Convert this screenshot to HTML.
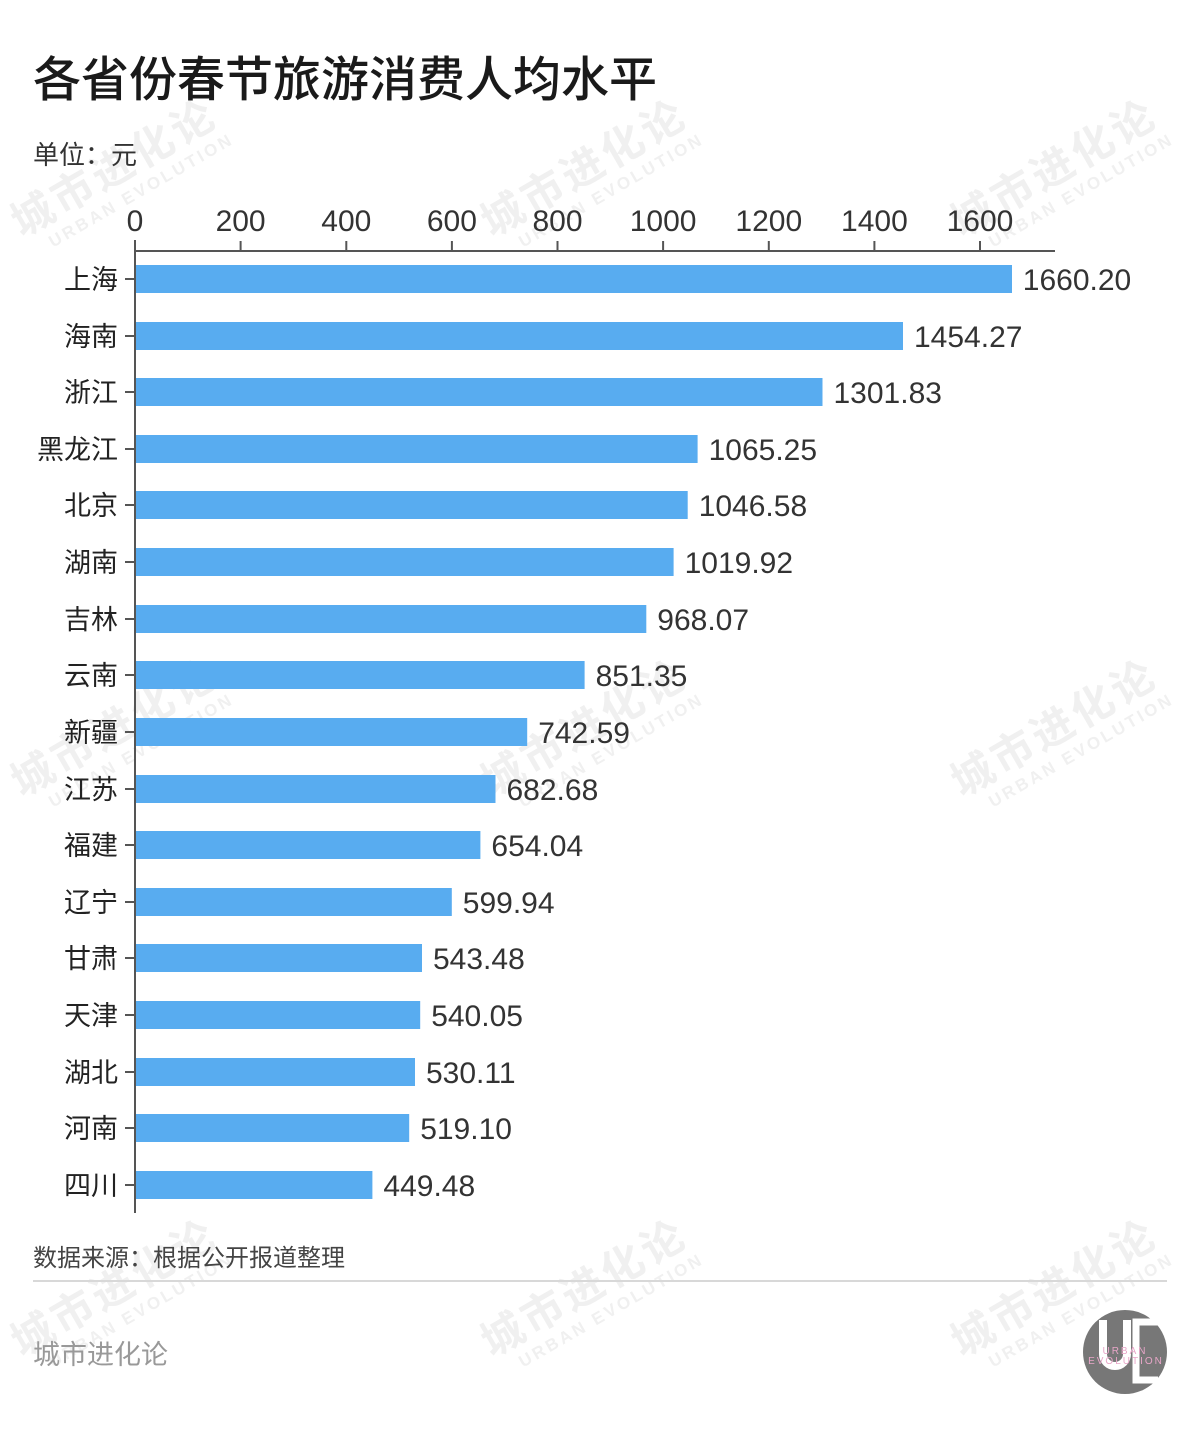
<!DOCTYPE html>
<html><head><meta charset="utf-8"><style>
html,body{margin:0;padding:0;background:#fff;}
svg{display:block;}
text{font-family:"Liberation Sans","Noto Sans CJK SC",sans-serif;}
</style></head><body>
<svg width="1200" height="1440" viewBox="0 0 1200 1440" xmlns="http://www.w3.org/2000/svg">
<rect width="1200" height="1440" fill="#fff"/>
<defs>
<g id="wm">
<text x="0" y="0" font-size="42" font-weight="bold" fill="#f0f0f0" font-family="Noto Sans CJK SC,sans-serif" letter-spacing="4">城市进化论</text>
<text x="22" y="24" font-size="17" font-weight="bold" fill="#f0f0f0" letter-spacing="3">URBAN EVOLUTION</text>
</g>
</defs>
<g transform="translate(22,238) rotate(-30)"><use href="#wm"/></g>
<g transform="translate(492,238) rotate(-30)"><use href="#wm"/></g>
<g transform="translate(962,238) rotate(-30)"><use href="#wm"/></g>
<g transform="translate(22,798) rotate(-30)"><use href="#wm"/></g>
<g transform="translate(492,798) rotate(-30)"><use href="#wm"/></g>
<g transform="translate(962,798) rotate(-30)"><use href="#wm"/></g>
<g transform="translate(22,1358) rotate(-30)"><use href="#wm"/></g>
<g transform="translate(492,1358) rotate(-30)"><use href="#wm"/></g>
<g transform="translate(962,1358) rotate(-30)"><use href="#wm"/></g>

<text x="33" y="96" font-size="48" font-weight="500" fill="#1a1a1a" font-family="Noto Sans CJK SC,sans-serif">各省份春节旅游消费人均水平</text>
<text x="33" y="164" font-size="26" fill="#333">单位：元</text>

<g font-size="30" fill="#333" text-anchor="middle">
<text x="135" y="231">0</text><text x="240.6" y="231">200</text><text x="346.3" y="231">400</text><text x="451.9" y="231">600</text><text x="557.5" y="231">800</text><text x="663.1" y="231">1000</text><text x="768.8" y="231">1200</text><text x="874.4" y="231">1400</text><text x="980" y="231">1600</text>
</g>
<g stroke="#555" stroke-width="2">
<line x1="135" y1="251" x2="1055" y2="251"/>
<line x1="135" y1="240" x2="135" y2="1213"/>
<line x1="240.6" y1="241" x2="240.6" y2="251"/><line x1="346.3" y1="241" x2="346.3" y2="251"/><line x1="451.9" y1="241" x2="451.9" y2="251"/><line x1="557.5" y1="241" x2="557.5" y2="251"/><line x1="663.1" y1="241" x2="663.1" y2="251"/><line x1="768.8" y1="241" x2="768.8" y2="251"/><line x1="874.4" y1="241" x2="874.4" y2="251"/><line x1="980" y1="241" x2="980" y2="251"/>
<line x1="125" y1="279" x2="135" y2="279"/><line x1="125" y1="336" x2="135" y2="336"/><line x1="125" y1="392" x2="135" y2="392"/><line x1="125" y1="449" x2="135" y2="449"/><line x1="125" y1="505" x2="135" y2="505"/><line x1="125" y1="562" x2="135" y2="562"/><line x1="125" y1="619" x2="135" y2="619"/><line x1="125" y1="675" x2="135" y2="675"/><line x1="125" y1="732" x2="135" y2="732"/><line x1="125" y1="789" x2="135" y2="789"/><line x1="125" y1="845" x2="135" y2="845"/><line x1="125" y1="902" x2="135" y2="902"/><line x1="125" y1="958" x2="135" y2="958"/><line x1="125" y1="1015" x2="135" y2="1015"/><line x1="125" y1="1072" x2="135" y2="1072"/><line x1="125" y1="1128" x2="135" y2="1128"/><line x1="125" y1="1185" x2="135" y2="1185"/>
</g>
<g fill="#58acf0">
<rect x="136" y="265" width="876" height="28"/>
<rect x="136" y="322" width="767" height="28"/>
<rect x="136" y="378" width="686.5" height="28"/>
<rect x="136" y="435" width="561.6" height="28"/>
<rect x="136" y="491" width="551.7" height="28"/>
<rect x="136" y="548" width="537.6" height="28"/>
<rect x="136" y="605" width="510.3" height="28"/>
<rect x="136" y="661" width="448.6" height="28"/>
<rect x="136" y="718" width="391.2" height="28"/>
<rect x="136" y="775" width="359.5" height="28"/>
<rect x="136" y="831" width="344.4" height="28"/>
<rect x="136" y="888" width="315.8" height="28"/>
<rect x="136" y="944" width="286" height="28"/>
<rect x="136" y="1001" width="284.2" height="28"/>
<rect x="136" y="1058" width="279" height="28"/>
<rect x="136" y="1114" width="273.2" height="28"/>
<rect x="136" y="1171" width="236.4" height="28"/>
</g>
<g font-size="27" fill="#222" text-anchor="end">
<text x="118" y="289">上海</text><text x="118" y="346">海南</text><text x="118" y="402">浙江</text><text x="118" y="459">黑龙江</text><text x="118" y="515">北京</text><text x="118" y="572">湖南</text><text x="118" y="629">吉林</text><text x="118" y="685">云南</text><text x="118" y="742">新疆</text><text x="118" y="799">江苏</text><text x="118" y="855">福建</text><text x="118" y="912">辽宁</text><text x="118" y="968">甘肃</text><text x="118" y="1025">天津</text><text x="118" y="1082">湖北</text><text x="118" y="1138">河南</text><text x="118" y="1195">四川</text>
</g>
<g font-size="30" fill="#333">
<text x="1022.8" y="290">1660.20</text>
<text x="914" y="347">1454.27</text>
<text x="833.5" y="403">1301.83</text>
<text x="708.6" y="460">1065.25</text>
<text x="698.7" y="516">1046.58</text>
<text x="684.6" y="573">1019.92</text>
<text x="657.3" y="630">968.07</text>
<text x="595.6" y="686">851.35</text>
<text x="538.2" y="743">742.59</text>
<text x="506.5" y="800">682.68</text>
<text x="491.4" y="856">654.04</text>
<text x="462.8" y="913">599.94</text>
<text x="433" y="969">543.48</text>
<text x="431.2" y="1026">540.05</text>
<text x="426" y="1083">530.11</text>
<text x="420.2" y="1139">519.10</text>
<text x="383.4" y="1196">449.48</text>
</g>
<text x="33" y="1266" font-size="24" fill="#444">数据来源：根据公开报道整理</text>
<line x1="33" y1="1281" x2="1167" y2="1281" stroke="#d8d8d8" stroke-width="2"/>
<text x="33" y="1364" font-size="27" fill="#999">城市进化论</text>
<circle cx="1125" cy="1352" r="42" fill="#777"/>
<path d="M1103 1320 v34 a12 12 0 0 0 24 0 v-34" fill="none" stroke="#fff" stroke-width="8"/>
<path d="M1158 1322 h-22 v58 h22" fill="none" stroke="#fff" stroke-width="7"/>
<text x="1125" y="1354" font-size="10" fill="#e8a6c8" text-anchor="middle" letter-spacing="2">URBAN</text>
<text x="1126" y="1364" font-size="10" fill="#e8a6c8" text-anchor="middle" letter-spacing="2">EVOLUTION</text>
</svg>
</body></html>
